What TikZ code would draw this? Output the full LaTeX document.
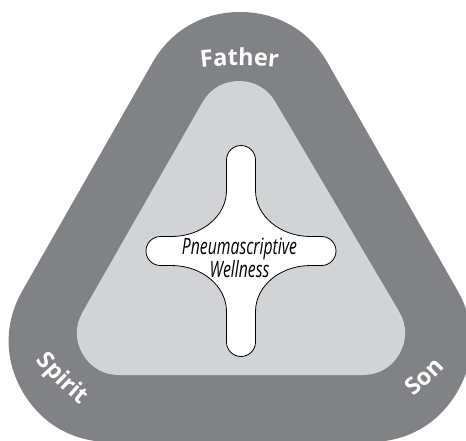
\documentclass[tikz,border=0pt]{standalone}
\usepackage{fontspec}
\setmainfont{Open Sans}
\newfontfamily\labfont{Open Sans}
\newfontfamily\spacedfont{Open Sans}[LetterSpace=10]
\usetikzlibrary{decorations.text}
\definecolor{ringgray}{RGB}{128,130,133}
\definecolor{innergray}{RGB}{209,211,212}
\tikzset{
  ringshape/.style={ringgray, line width=202pt, line join=round},
  innershape/.style={innergray, line width=84pt, line join=round},
  starshape/.style={fill=white, draw=black, line width=0.8pt},
  centertext/.style={font=\itshape\fontsize{22.5}{18.5}\selectfont, align=center, inner sep=0pt, text=black}
}
\begin{document}
\begin{tikzpicture}[x=1pt,y=1pt]
\useasboundingbox (0,0) rectangle (466,-440);
% outer ring
\coordinate (oA) at (240,-113);
\coordinate (oB) at (110,-341);
\coordinate (oC) at (370,-341);
\filldraw[ringshape] (oA) -- (oB) -- (oC) -- cycle;
% inner triangle
\coordinate (iA) at (239,-123);
\coordinate (iB) at (119,-333);
\coordinate (iC) at (363,-333);
\filldraw[innershape] (iA) -- (iB) -- (iC) -- cycle;
% star
\filldraw[starshape, shift={(241,-251)}]
  (14.5,60.5) -- (14.5,91) arc[start angle=0,end angle=180,radius=14.5]
  -- (-14.5,60.5) arc[start angle=0,end angle=-90,x radius=55,y radius=46]
  -- (-80.5,14.5) arc[start angle=90,end angle=270,radius=14.5]
  -- (-69.5,-14.5) arc[start angle=90,end angle=0,x radius=55,y radius=46]
  -- (-14.5,-91) arc[start angle=180,end angle=360,radius=14.5]
  -- (14.5,-60.5) arc[start angle=180,end angle=90,x radius=55,y radius=46]
  -- (80.5,-14.5) arc[start angle=-90,end angle=90,radius=14.5]
  -- (69.5,14.5) arc[start angle=270,end angle=180,x radius=55,y radius=46]
  -- cycle;
\node[centertext] (pw) at (239.5,-258)
  {\scalebox{0.7}[1]{Pneumascriptive}\\\scalebox{0.7}[1]{Wellness}};
% labels
\path[decorate, decoration={text along path, text align=center,
  text={|\labfont\bfseries\fontsize{23.5}{28}\selectfont\color{white}|Father}}]
  (239.4,-405.5) ++(102:340) arc[start angle=102,end angle=78,radius=340];
\path[decorate, decoration={text along path, text align=center,
  text={|\spacedfont\bfseries\fontsize{23.5}{28}\selectfont\color{white}|Spirit}}]
  (269,-172) ++(210:300) arc[start angle=210,end angle=240,radius=300];
\path[decorate, decoration={text along path, text align=center,
  text={|\spacedfont\bfseries\fontsize{23.5}{28}\selectfont\color{white}|Son}}]
  (225.2,-162.9) ++(298:300) arc[start angle=298,end angle=328,radius=300];
\end{tikzpicture}
\end{document}
